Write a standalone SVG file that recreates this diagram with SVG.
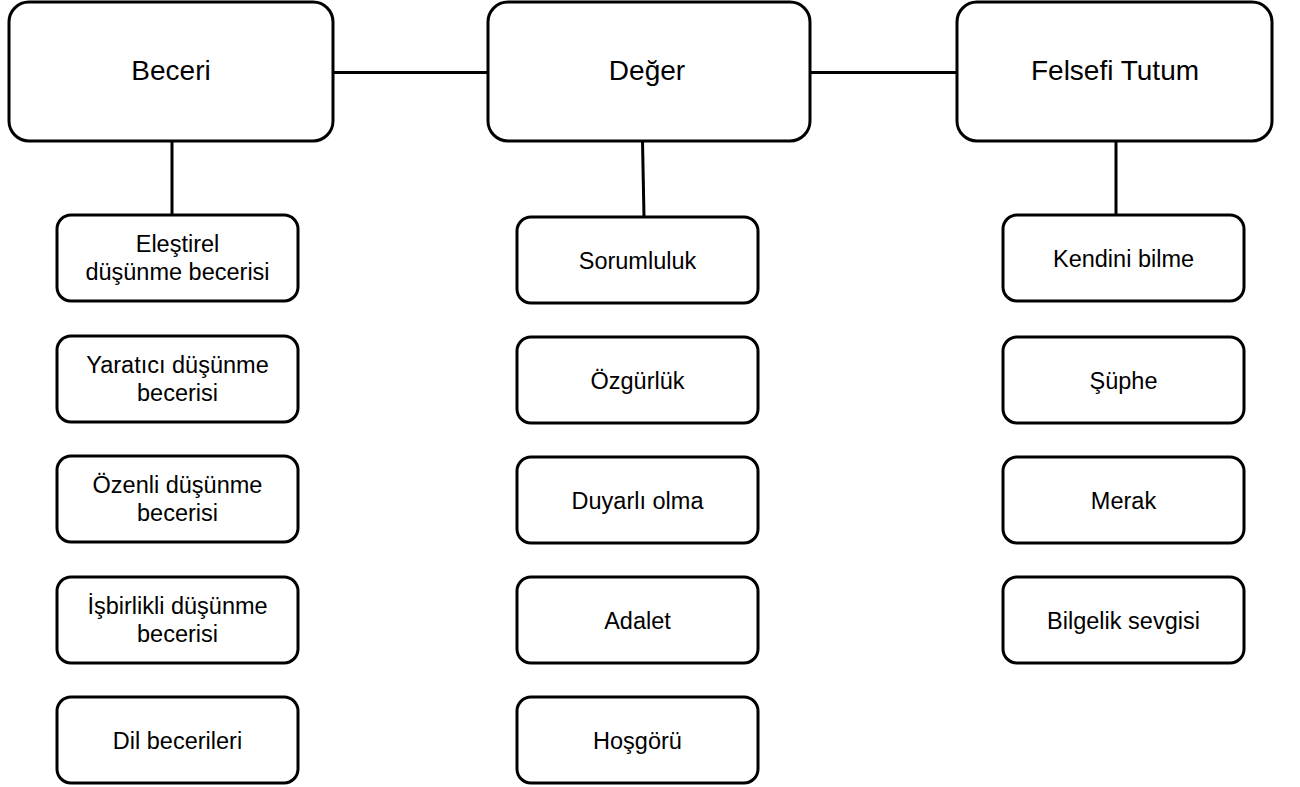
<svg xmlns="http://www.w3.org/2000/svg" width="1300" height="787" viewBox="0 0 1300 787">
  <style>
    .box { fill: #ffffff; stroke: #000000; stroke-width: 3; }
    .link { stroke: #000000; stroke-width: 3; fill: none; }
    .title { font-family: "Liberation Sans", Arial, sans-serif; font-size: 28px; fill: #000000; text-anchor: middle; }
    .label { font-family: "Liberation Sans", Arial, sans-serif; font-size: 23.5px; fill: #000000; text-anchor: middle; }
  </style>
  <rect width="1300" height="787" fill="#ffffff"/>

  <!-- connectors -->
  <g id="connectors">
    <line class="link" x1="333" y1="72.5" x2="488" y2="72.5"/>
    <line class="link" x1="810" y1="72.5" x2="957" y2="72.5"/>
    <line class="link" x1="172" y1="141" x2="172" y2="215"/>
    <line class="link" x1="642.5" y1="141" x2="644" y2="217"/>
    <line class="link" x1="1116" y1="141" x2="1116" y2="215"/>
  </g>

  <!-- top level -->
  <g id="beceri">
    <rect class="box" x="9" y="2" width="324" height="139" rx="20"/>
    <text class="title" x="171" y="80">Beceri</text>
  </g>
  <g id="deger">
    <rect class="box" x="488" y="2" width="322" height="139" rx="20"/>
    <text class="title" x="647" y="80">Değer</text>
  </g>
  <g id="felsefi-tutum">
    <rect class="box" x="957" y="2" width="315" height="139" rx="20"/>
    <text class="title" x="1115" y="80">Felsefi Tutum</text>
  </g>

  <!-- Beceri column -->
  <g id="elestirel">
    <rect class="box" x="57" y="215" width="241" height="86" rx="14"/>
    <text class="label" x="177.5" y="252">Eleştirel</text>
    <text class="label" x="177.5" y="280">düşünme becerisi</text>
  </g>
  <g id="yaratici">
    <rect class="box" x="57" y="336" width="241" height="86" rx="14"/>
    <text class="label" x="177.5" y="373">Yaratıcı düşünme</text>
    <text class="label" x="177.5" y="401">becerisi</text>
  </g>
  <g id="ozenli">
    <rect class="box" x="57" y="456" width="241" height="86" rx="14"/>
    <text class="label" x="177.5" y="493">Özenli düşünme</text>
    <text class="label" x="177.5" y="521">becerisi</text>
  </g>
  <g id="isbirlikli">
    <rect class="box" x="57" y="577" width="241" height="86" rx="14"/>
    <text class="label" x="177.5" y="614">İşbirlikli düşünme</text>
    <text class="label" x="177.5" y="642">becerisi</text>
  </g>
  <g id="dil">
    <rect class="box" x="57" y="697" width="241" height="86" rx="14"/>
    <text class="label" x="177.5" y="749">Dil becerileri</text>
  </g>

  <!-- Değer column -->
  <g id="sorumluluk">
    <rect class="box" x="517" y="217" width="241" height="86" rx="14"/>
    <text class="label" x="637.5" y="269">Sorumluluk</text>
  </g>
  <g id="ozgurluk">
    <rect class="box" x="517" y="337" width="241" height="86" rx="14"/>
    <text class="label" x="637.5" y="389">Özgürlük</text>
  </g>
  <g id="duyarli">
    <rect class="box" x="517" y="457" width="241" height="86" rx="14"/>
    <text class="label" x="637.5" y="509">Duyarlı olma</text>
  </g>
  <g id="adalet">
    <rect class="box" x="517" y="577" width="241" height="86" rx="14"/>
    <text class="label" x="637.5" y="629">Adalet</text>
  </g>
  <g id="hosgoru">
    <rect class="box" x="517" y="697" width="241" height="86" rx="14"/>
    <text class="label" x="637.5" y="749">Hoşgörü</text>
  </g>

  <!-- Felsefi Tutum column -->
  <g id="kendini-bilme">
    <rect class="box" x="1003" y="215" width="241" height="86" rx="14"/>
    <text class="label" x="1123.5" y="267">Kendini bilme</text>
  </g>
  <g id="suphe">
    <rect class="box" x="1003" y="337" width="241" height="86" rx="14"/>
    <text class="label" x="1123.5" y="389">Şüphe</text>
  </g>
  <g id="merak">
    <rect class="box" x="1003" y="457" width="241" height="86" rx="14"/>
    <text class="label" x="1123.5" y="509">Merak</text>
  </g>
  <g id="bilgelik">
    <rect class="box" x="1003" y="577" width="241" height="86" rx="14"/>
    <text class="label" x="1123.5" y="629">Bilgelik sevgisi</text>
  </g>
</svg>
